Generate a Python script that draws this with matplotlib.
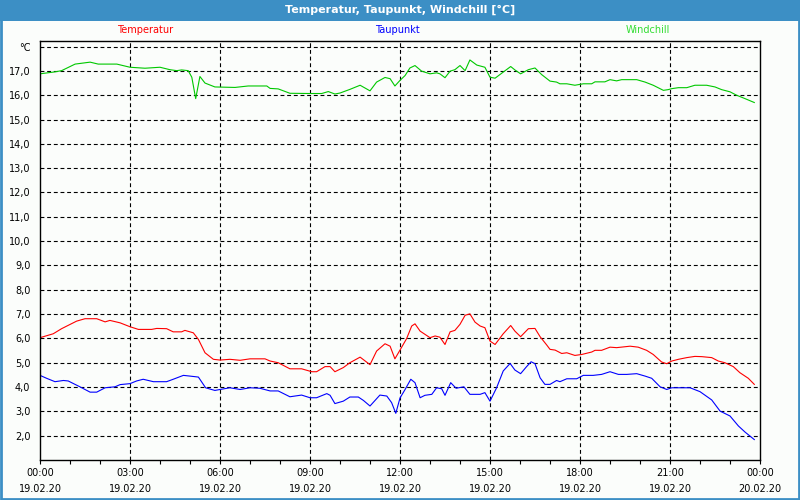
import matplotlib.pyplot as plt
from matplotlib.patches import Rectangle

# hours since 19.02.20 00:00 and values
temp_h = [0, 0.44, 0.72, 1.22, 1.5, 1.89, 2.17, 2.33, 2.67, 3.0, 3.28, 3.72, 3.89, 4.22,
          4.44, 4.72, 4.83, 5.11, 5.28, 5.5, 5.78, 6.0, 6.33, 6.67, 7.0, 7.5, 7.67, 7.94,
          8.33, 8.72, 9.06, 9.22, 9.5, 9.67, 9.83, 10.11, 10.33, 10.67, 11.0, 11.22, 11.5,
          11.67, 11.83, 12.0, 12.22, 12.39, 12.5, 12.67, 13.0, 13.17, 13.33, 13.5, 13.67,
          13.83, 14.0, 14.17, 14.33, 14.5, 14.67, 14.83, 15.0, 15.17, 15.44, 15.69, 15.83,
          16.02, 16.28, 16.5, 16.67, 16.89, 17.0, 17.17, 17.39, 17.56, 17.83, 18.06, 18.39,
          18.5, 18.72, 19.0, 19.22, 19.67, 19.94, 20.22, 20.44, 20.72, 20.89, 21.06, 21.28,
          21.56, 21.83, 22.06, 22.39, 22.61, 22.83, 23.11, 23.33, 23.61, 23.81]
temp = [6.03, 6.19, 6.4, 6.71, 6.81, 6.81, 6.68, 6.74, 6.64, 6.48, 6.37, 6.37, 6.41, 6.4,
        6.27, 6.27, 6.33, 6.23, 5.96, 5.41, 5.14, 5.11, 5.14, 5.1, 5.16, 5.16, 5.07, 5.0,
        4.75, 4.75, 4.63, 4.63, 4.84, 4.84, 4.63, 4.8, 5.0, 5.23, 4.92, 5.48, 5.78,
        5.68, 5.16, 5.52, 5.99, 6.51, 6.6, 6.3, 6.03, 6.1, 6.05, 5.75, 6.27,
        6.33, 6.58, 6.95, 7.01, 6.67, 6.51, 6.44, 5.89, 5.75, 6.19, 6.53, 6.3,
        6.07, 6.4, 6.41, 6.07, 5.73, 5.55, 5.52, 5.38, 5.41, 5.3, 5.34, 5.44,
        5.51, 5.51, 5.64, 5.62, 5.68, 5.64, 5.51, 5.34, 5.03, 4.96, 5.07, 5.14,
        5.21, 5.26, 5.25, 5.21, 5.07, 5.0, 4.84, 4.59, 4.36, 4.11]

dew_h = [0, 0.22, 0.5, 0.78, 0.94, 1.33, 1.67, 1.89, 2.17, 2.5, 2.67, 3.0, 3.22, 3.44,
         3.78, 4.22, 4.44, 4.78, 5.0, 5.28, 5.52, 5.83, 6.0, 6.33, 6.67, 7.0, 7.33, 7.67,
         7.94, 8.33, 8.72, 9.0, 9.22, 9.56, 9.67, 9.83, 10.11, 10.33, 10.61, 10.78, 11.0,
         11.33, 11.56, 11.72, 11.86, 12.0, 12.17, 12.36, 12.5, 12.67, 12.83, 13.06, 13.22,
         13.39, 13.5, 13.69, 13.87, 14.13, 14.33, 14.67, 14.83, 15.0, 15.22, 15.44, 15.67,
         15.83, 16.02, 16.22, 16.37, 16.5, 16.67, 16.83, 17.0, 17.22, 17.33, 17.56, 17.89,
         18.11, 18.44, 18.72, 19.0, 19.28, 19.56, 19.89, 20.17, 20.39, 20.67, 20.89, 21.06,
         21.67, 22.0, 22.39, 22.67, 23.0, 23.28, 23.5, 23.81]
dew = [4.48, 4.36, 4.22, 4.27, 4.25, 4.01, 3.79, 3.79, 3.97, 4.01, 4.1, 4.14, 4.25, 4.32,
       4.22, 4.22, 4.32, 4.48, 4.45, 4.41, 3.97, 3.86, 3.9, 3.97, 3.9, 3.97, 3.95, 3.84,
       3.84, 3.6, 3.67, 3.56, 3.56, 3.73, 3.66, 3.32, 3.42, 3.59, 3.59, 3.45, 3.22,
       3.67, 3.63, 3.36, 2.92, 3.55, 3.9, 4.32, 4.18, 3.56, 3.66, 3.7, 3.97,
       3.93, 3.66, 4.18, 3.95, 4.01, 3.7, 3.7, 3.77, 3.42, 3.97, 4.66, 4.97,
       4.7, 4.55, 4.84, 5.04, 4.96, 4.38, 4.11, 4.11, 4.27, 4.22, 4.34, 4.34,
       4.48, 4.48, 4.52, 4.63, 4.52, 4.52, 4.55, 4.45, 4.36, 4.01, 3.9, 3.97,
       3.97, 3.81, 3.47, 3.01, 2.81, 2.4, 2.15, 1.84]

chill_h = [0, 0.5, 0.72, 1.17, 1.67, 1.94, 2.56, 3.0, 3.5, 4.0, 4.33, 4.56, 4.72, 4.94,
           5.06, 5.19, 5.33, 5.5, 5.83, 6.5, 6.94, 7.56, 7.67, 7.94, 8.33, 9.0, 9.39,
           9.61, 9.83, 10.0, 10.33, 10.67, 11.0, 11.22, 11.5, 11.67, 11.83, 12.0, 12.17,
           12.33, 12.5, 12.72, 13.0, 13.22, 13.33, 13.5, 13.67, 13.83, 14.0, 14.17, 14.33,
           14.56, 14.83, 15.0, 15.17, 15.44, 15.69, 15.83, 16.02, 16.28, 16.5, 16.72, 17.0,
           17.22, 17.33, 17.56, 17.83, 18.11, 18.39, 18.5, 18.83, 19.0, 19.22, 19.39, 19.89,
           20.17, 20.44, 20.78, 20.94, 21.06, 21.28, 21.56, 21.83, 22.22, 22.5, 22.72, 23.0,
           23.22, 23.5, 23.81]
chill = [16.88, 16.96, 17.01, 17.28, 17.36, 17.28, 17.28, 17.15, 17.11, 17.15, 17.05, 17.01,
         17.04, 17.01, 16.74, 15.86, 16.77, 16.5, 16.34, 16.32, 16.38, 16.38, 16.28, 16.26,
         16.08, 16.07, 16.07, 16.15, 16.05, 16.09, 16.24, 16.41, 16.18, 16.54, 16.73, 16.68,
         16.38, 16.61, 16.81, 17.12, 17.22, 16.99, 16.88, 16.92, 16.88, 16.72, 16.99, 17.05,
         17.22, 17.01, 17.45, 17.24, 17.15, 16.74, 16.7, 16.95, 17.18, 17.04, 16.88, 17.05,
         17.12, 16.85, 16.58, 16.54, 16.47, 16.47, 16.41, 16.47, 16.47, 16.55, 16.55, 16.64,
         16.59, 16.64, 16.64, 16.54, 16.41, 16.2, 16.23, 16.27, 16.31, 16.31, 16.41, 16.41,
         16.34, 16.23, 16.14, 16.0, 15.86, 15.7]

x_ticks = [0, 3, 6, 9, 12, 15, 18, 21, 24]
x_labels = ["00:00\n19.02.20", "03:00\n19.02.20", "06:00\n19.02.20", "09:00\n19.02.20",
            "12:00\n19.02.20", "15:00\n19.02.20", "18:00\n19.02.20", "21:00\n19.02.20",
            "00:00\n20.02.20"]
y_ticks = list(range(2, 19))
y_labels = [f"{v},0" for v in range(2, 18)] + ["°C"]

blue_frame = "#3c8fc5"

fig = plt.figure(figsize=(8, 5), dpi=100, facecolor="#fbfdfb")
fig.patches.append(Rectangle((0, 0.959), 1, 0.041, transform=fig.transFigure,
                             facecolor=blue_frame, edgecolor="none"))
fig.patches.append(Rectangle((0.0015, 0.002), 0.997, 0.996, transform=fig.transFigure,
                             facecolor="none", edgecolor=blue_frame, linewidth=2))
fig.text(0.5, 0.981, "Temperatur, Taupunkt, Windchill [°C]", color="white",
         fontsize=8, fontweight="bold", ha="center", va="center")
fig.text(145 / 800, 1 - 30 / 500, "Temperatur", color="#ff0000", fontsize=7, ha="center", va="center")
fig.text(397 / 800, 1 - 30 / 500, "Taupunkt", color="#0000ff", fontsize=7, ha="center", va="center")
fig.text(648 / 800, 1 - 30 / 500, "Windchill", color="#33dd33", fontsize=7, ha="center", va="center")

ax = fig.add_axes([0.05, 0.08, 0.90, 0.839])
ax.set_facecolor("#fbfdfb")
ax.plot(temp_h, temp, color="#ff0000", linewidth=0.8)
ax.plot(dew_h, dew, color="#0000ff", linewidth=0.8)
ax.plot(chill_h, chill, color="#00c800", linewidth=0.8)

ax.set_xlim(0, 24)
ax.set_ylim(1.0, 18.25)
ax.set_xticks(x_ticks)
ax.set_xticklabels(x_labels, fontsize=7, linespacing=1.75)
ax.set_xticks(range(25), minor=True)
ax.set_yticks(y_ticks)
ax.set_yticklabels(y_labels, fontsize=7)
ax.tick_params(axis="x", which="both", direction="out", length=3, pad=3, width=0.8)
ax.tick_params(axis="y", length=0, pad=7)

for v in y_ticks:
    ax.axhline(v, color="black", linestyle=(0, (3.5, 2.5)), linewidth=0.8, zorder=0)
for h in x_ticks[1:-1]:
    ax.axvline(h, color="black", linestyle=(0, (3.5, 2.5)), linewidth=0.8, zorder=0)

for s in ax.spines.values():
    s.set_linewidth(1)
    s.set_color("black")

fig.savefig("out.png", dpi=100, facecolor=fig.get_facecolor())
